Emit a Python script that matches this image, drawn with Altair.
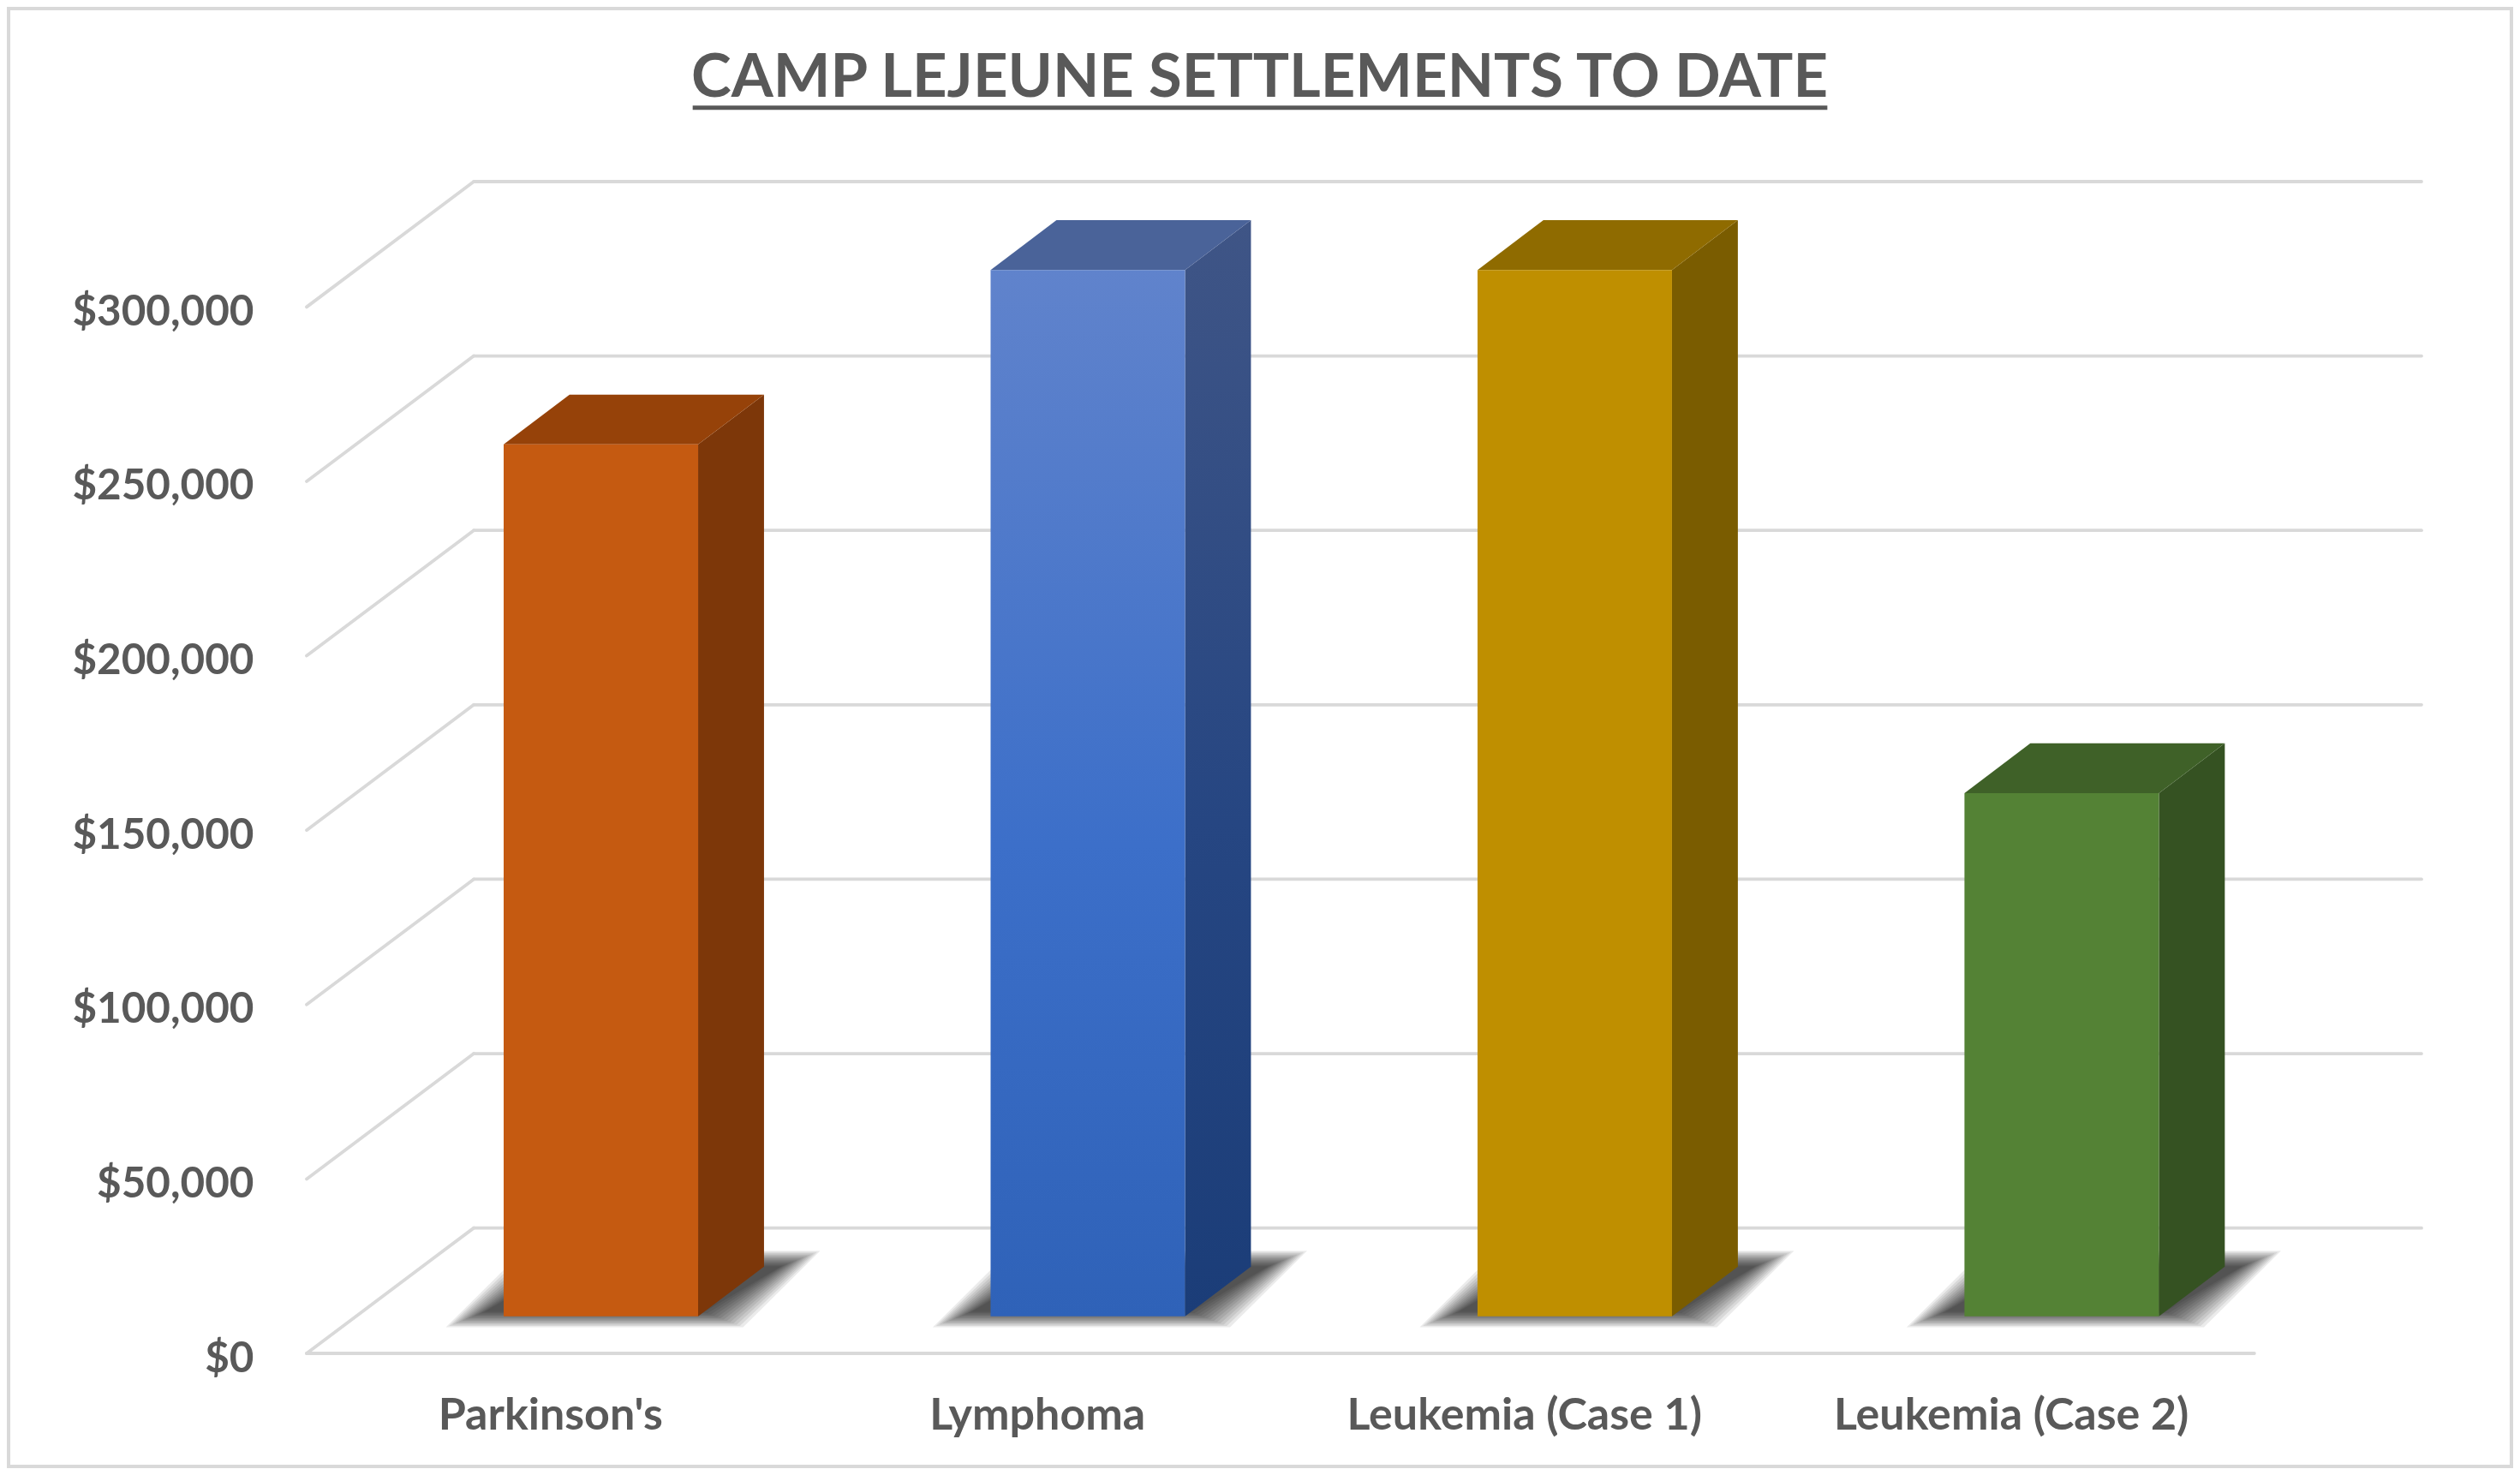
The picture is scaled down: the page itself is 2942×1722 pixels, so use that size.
import json
import altair as alt
import pandas as pd

categories = ["Parkinson's", "Lymphoma", "Leukemia (Case 1)", "Leukemia (Case 2)"]
values = [250000, 300000, 300000, 150000]
front_colors = ["#C55A11", None, "#BF8F00", "#548235"]
side_colors = ["#7D3709", None, "#7A5C00", "#355222"]
top_colors = ["#964209", "#4A6399", "#8F6B00", "#3F6128"]
grid_levels = [0, 50000, 100000, 150000, 200000, 250000, 300000]

# Projection constants, in axis units (one x unit = one category slot)
XU = 1 / 303.0          # x units per sketch pixel
YU = 50000 / 108.5      # dollars per sketch pixel
WALL_DX = 104 * XU
WALL_DY = 78 * YU
BAR_X = 122.6 * XU
BAR_W = 121 * XU
BAR_BASE = 23 * YU
BAR_DX = 41 * XU
BAR_DY = 31 * YU
X_MAX = 4 + WALL_DX
Y_MAX = 300000 + WALL_DY
INK = "#595959"
GRID = "#D9D9D9"
FONT = "Lato"

x_scale = alt.Scale(domain=[0, X_MAX], nice=False, zero=False)
y_scale = alt.Scale(domain=[0, Y_MAX], nice=False, zero=False)

# Wall and floor lines
rows = []
for level in grid_levels:
    rows.append({"g": f"s{level}", "x": 0, "y": level})
    rows.append({"g": f"s{level}", "x": WALL_DX, "y": level + WALL_DY})
    rows.append({"g": f"b{level}", "x": WALL_DX, "y": level + WALL_DY})
    rows.append({"g": f"b{level}", "x": X_MAX, "y": level + WALL_DY})
rows.append({"g": "floor", "x": 0, "y": 0})
rows.append({"g": "floor", "x": 4, "y": 0})

label_expr = json.dumps(categories) + "[round(datum.value - 0.5)]"
grid_layer = (
    alt.Chart(pd.DataFrame(rows))
    .mark_line(color=GRID, strokeWidth=3.8, strokeCap="round", strokeJoin="round", clip=False)
    .encode(
        x=alt.X(
            "x:Q",
            scale=x_scale,
            axis=alt.Axis(
                title=None, values=[0.5, 1.5, 2.5, 3.5], labelExpr=label_expr, domain=False,
                ticks=False, grid=False, labelFont=FONT, labelFontWeight="bold", labelFontSize=52,
                labelColor=INK, labelPadding=47, labelFlush=False, labelOverlap=False,
                labelAngle=0, labelLimit=800,
            ),
        ),
        y=alt.Y(
            "y:Q",
            scale=y_scale,
            axis=alt.Axis(
                title=None, values=grid_levels, format="$,.0f", domain=False, ticks=False,
                grid=False, labelFont=FONT, labelFontWeight="bold", labelFontSize=49.4,
                labelColor=INK, labelPadding=62, labelOverlap=False, labelFlush=False,
                labelLimit=800, labelOffset=6,
            ),
        ),
        detail="g:N",
    )
)

X_NOAXIS = alt.X("x:Q", scale=x_scale, title=None)
Y_NOAXIS = alt.Y("y:Q", scale=y_scale, title=None)


def bar_left(i):
    return i + BAR_X


layers = [grid_layer]

# Soft floor shadows: nested parallelograms that build up a blur
for e in [6, 5, 4, 3, 2, 1, 0, -1, -2, -3, -4, -5, -6]:
    ex = e * 2.0
    ey = e * 0.8
    rows = []
    for i in range(len(categories)):
        x0 = bar_left(i) - (24 + ex) * XU
        x1 = bar_left(i) + BAR_W + (16 + ex) * XU
        y0 = BAR_BASE - (2 + ey) * YU
        y1 = BAR_BASE + (36 + ey) * YU
        shift = 48 * XU
        rows.append({"s": i, "y": y0, "x": x0, "x2": x1})
        rows.append({"s": i, "y": y1, "x": x0 + shift, "x2": x1 + shift})
    layers.append(
        alt.Chart(pd.DataFrame(rows))
        .mark_area(orient="horizontal", color="#000000", opacity=0.077, clip=False)
        .encode(x=X_NOAXIS, x2=alt.X2("x2:Q"), y=Y_NOAXIS, detail="s:N")
    )

blue_front = alt.LinearGradient(
    gradient="linear",
    stops=[
        alt.GradientStop(color="#6083CC", offset=0),
        alt.GradientStop(color="#3C6FC9", offset=0.55),
        alt.GradientStop(color="#2F62B8", offset=1),
    ],
    x1=0, x2=0, y1=0, y2=1,
)
blue_side = alt.LinearGradient(
    gradient="linear",
    stops=[
        alt.GradientStop(color="#3F5586", offset=0),
        alt.GradientStop(color="#264682", offset=0.55),
        alt.GradientStop(color="#1B3D78", offset=1),
    ],
    x1=0, x2=0, y1=0, y2=1,
)

for i, (name, value) in enumerate(zip(categories, values)):
    x0 = bar_left(i)
    x1 = x0 + BAR_W
    top = BAR_BASE + value
    front = front_colors[i] if front_colors[i] else blue_front
    side = side_colors[i] if side_colors[i] else blue_side

    side_df = pd.DataFrame(
        [
            {"x": x1, "y": BAR_BASE, "y2": top},
            {"x": x1 + BAR_DX, "y": BAR_BASE + BAR_DY, "y2": top + BAR_DY},
        ]
    )
    layers.append(
        alt.Chart(side_df)
        .mark_area(orient="vertical", color=side, clip=False)
        .encode(x=X_NOAXIS, y=Y_NOAXIS, y2=alt.Y2("y2:Q"))
    )
    top_df = pd.DataFrame(
        [
            {"y": top, "x": x0, "x2": x1},
            {"y": top + BAR_DY, "x": x0 + BAR_DX, "x2": x1 + BAR_DX},
        ]
    )
    layers.append(
        alt.Chart(top_df)
        .mark_area(orient="horizontal", color=top_colors[i], clip=False)
        .encode(x=X_NOAXIS, x2=alt.X2("x2:Q"), y=Y_NOAXIS)
    )
    front_df = pd.DataFrame([{"name": name, "x": x0, "x2": x1, "y": BAR_BASE, "y2": top}])
    layers.append(
        alt.Chart(front_df)
        .mark_rect(color=front, clip=False)
        .encode(x=X_NOAXIS, x2=alt.X2("x2:Q"), y=Y_NOAXIS, y2=alt.Y2("y2:Q"))
    )

# Title underline and chart frame sit outside the plot area (pixel offsets from it)
PLOT_W = 2469
PLOT_H = 1368
PAD_L = 350
PAD_T = 204
underline = (
    alt.Chart(pd.DataFrame({"a": [0]}))
    .mark_rule(color=INK, strokeWidth=5, clip=False)
    .encode(
        x=alt.value(431 * 1.8763 - 8 - PAD_L),
        x2=alt.value(1137 * 1.8763 - 8 - PAD_L),
        y=alt.value(67 * 1.8763 - 8 - PAD_T),
    )
)
frame = (
    alt.Chart(pd.DataFrame({"a": [0]}))
    .mark_rect(filled=False, stroke=GRID, strokeWidth=4, clip=False)
    .encode(
        x=alt.value(2 - PAD_L),
        x2=alt.value(2924 - PAD_L),
        y=alt.value(2 - PAD_T),
        y2=alt.value(1704 - PAD_T),
    )
)
layers.append(underline)
layers.append(frame)

chart = (
    alt.layer(*layers)
    .properties(
        width=PLOT_W,
        height=PLOT_H,
        padding={"left": PAD_L, "top": PAD_T, "right": 2926 - PAD_L - PLOT_W, "bottom": 1706 - PAD_T - PLOT_H},
        autosize=alt.AutoSizeParams(type="none"),
        background="#FFFFFF",
        title=alt.TitleParams(
            "CAMP LEJEUNE SETTLEMENTS TO DATE",
            font=FONT,
            fontSize=70.6,
            fontWeight="bold",
            color=INK,
            anchor="middle",
            frame="group",
            dx=-122,
            offset=-120,
            limit=2400,
        ),
    )
    .configure_view(stroke=None)
)

chart.save("out.html", embed_options={"renderer": "svg", "actions": False})
